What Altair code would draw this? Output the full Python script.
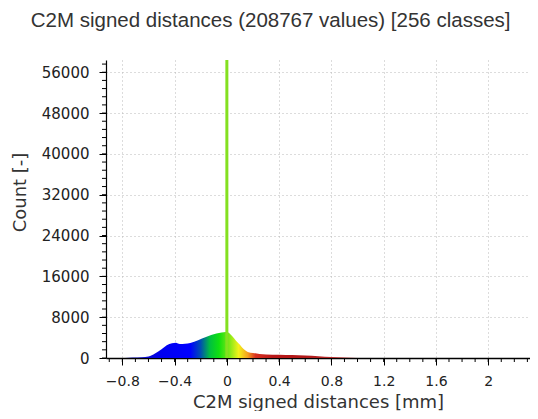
import altair as alt
import pandas as pd

# ---- data ----
dist_mm = [-0.78, -0.72, -0.65, -0.60, -0.55, -0.50, -0.46, -0.42, -0.39, -0.36,
           -0.32, -0.28, -0.22, -0.16, -0.12, -0.08, -0.04, -0.01, 0.01, 0.04,
           0.07, 0.10, 0.13, 0.16, 0.20, 0.25, 0.30, 0.40, 0.50, 0.60,
           0.70, 0.80, 0.90, 1.00, 1.10]
counts = [0, 80, 150, 300, 900, 1700, 2500, 2900, 3000, 2750,
          2800, 2950, 3500, 4100, 4500, 4800, 5000, 5100, 5000, 4300,
          3400, 2600, 1700, 1200, 1000, 800, 700, 650, 580, 500,
          350, 180, 80, 20, 0]

spike_x = [0.0]
spike_count = [58400]

x_major = [-0.8, -0.4, 0, 0.4, 0.8, 1.2, 1.6, 2.0]
x_minor = [round(-0.9 + 0.1 * i, 2) for i in range(33)]
y_major = [0, 8000, 16000, 24000, 32000, 40000, 48000, 56000]
y_minor = [1600 * i for i in range(37)]

x_domain = [-0.925, 2.32]
y_domain = [0, 58400]

# colour ramp (value -> colour) of the Blue>Green>Yellow>Red scale
ramp_vals = [-0.78, -0.50, -0.28, -0.20, -0.13, -0.06, 0.02, 0.09, 0.16, 0.22, 0.35, 0.60, 1.10]
ramp_cols = ["#1a1aa0", "#0000f0", "#0000ff", "#0050b0", "#00c040", "#10e010", "#80e818",
             "#f2f21a", "#f4a020", "#d83020", "#b81818", "#b01818", "#c04848"]

W, H = 424, 298

hist = pd.DataFrame({"d": dist_mm, "c": counts})
spike = pd.DataFrame({"d": spike_x, "c": spike_count})
xm = pd.DataFrame({"d": x_minor})
ym = pd.DataFrame({"c": y_minor})

lo, hi = dist_mm[0], dist_mm[-1]
stops = [alt.GradientStop(color=c, offset=(v - lo) / (hi - lo)) for v, c in zip(ramp_vals, ramp_cols)]
grad = alt.Gradient(gradient="linear", stops=stops, x1=0, x2=1, y1=0, y2=0)

xs = alt.Scale(domain=x_domain, nice=False, zero=False)
ys = alt.Scale(domain=y_domain, nice=False)

x_axis = alt.Axis(values=x_major, format="~g", title="C2M signed distances [mm]",
                  grid=True, gridDash=[1, 3], gridColor="#b8b8b8", gridWidth=1,
                  tickSize=7, tickColor="#000", domainColor="#000", domainWidth=1.5,
                  labelFont="DejaVu Sans", labelFontSize=14, labelColor="#222",
                  labelPadding=9, titleFont="DejaVu Sans", titleFontSize=18,
                  titleFontWeight="normal", titleColor="#333", titlePadding=5)
y_axis = alt.Axis(values=y_major, format="d", title="Count [-]",
                  grid=True, gridDash=[1, 3], gridColor="#b8b8b8", gridWidth=1,
                  tickSize=7, tickColor="#000", domainColor="#000", domainWidth=1.2,
                  labelFont="DejaVu Sans", labelFontSize=15, labelColor="#222",
                  labelPadding=10, titleFont="DejaVu Sans", titleFontSize=18,
                  titleFontWeight="normal", titleColor="#333", titlePadding=12,
                  titleY=132)

area = alt.Chart(hist).mark_area(color=grad, interpolate="monotone").encode(
    x=alt.X("d:Q", scale=xs, axis=x_axis),
    y=alt.Y("c:Q", scale=ys, axis=y_axis),
)

spike_rule = alt.Chart(spike).mark_rule(color="#84e020", strokeWidth=3).encode(
    x="d:Q", y=alt.Y("c:Q"), y2=alt.datum(0)
)

xminor = alt.Chart(xm).mark_rule(color="#000", strokeWidth=1).encode(
    x="d:Q", y=alt.value(H), y2=alt.value(H + 4)
)
yminor = alt.Chart(ym).mark_rule(color="#000", strokeWidth=1).encode(
    y="c:Q", x=alt.value(0), x2=alt.value(-4)
)

chart = alt.layer(area, spike_rule, xminor, yminor).properties(
    width=W, height=H,
    padding={"left": 3, "top": 3, "right": 0, "bottom": 0},
    title=alt.TitleParams("C2M signed distances (208767 values)  [256 classes]",
                          font="Liberation Sans", fontSize=20.5, fontWeight="normal",
                          color="#333", anchor="middle", frame="bounds", offset=27),
).configure_view(stroke=None)

chart.save("out.html", embed_options={"renderer": "svg", "actions": False})
